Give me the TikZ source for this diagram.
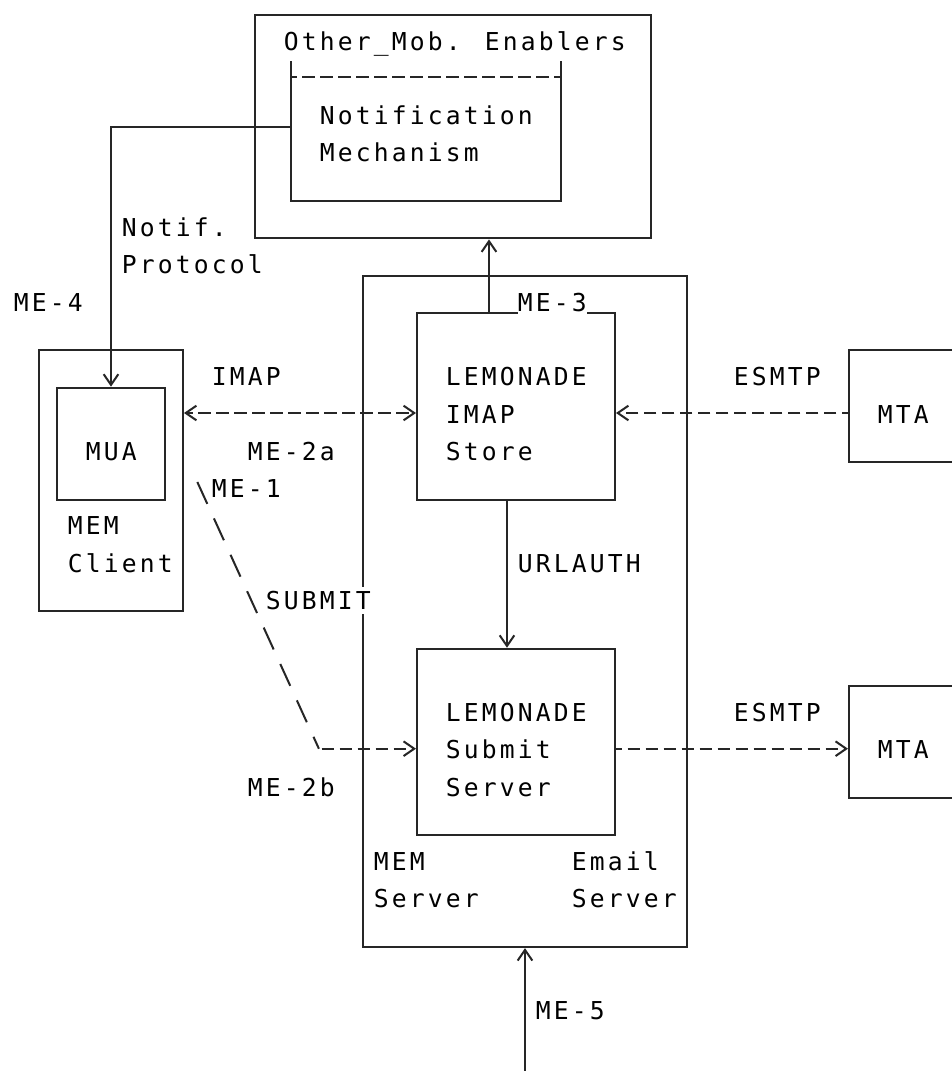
\documentclass[tikz,border=0pt]{standalone}
\usepackage{fontspec}
\usepackage{tikz}
\usetikzlibrary{arrows.meta,fit,calc}
\newfontfamily\asciifont[LetterSpace=12.8]{DejaVu Sans Mono}

\begin{document}
\begin{tikzpicture}[x=13.5pt, y=-27.975pt,
    >={Straight Barb[length=8pt, width=11pt]},
    box/.style={draw=black!85, line width=1.5pt, inner sep=0pt},
    wire/.style={draw=black!85, line width=1.5pt},
    hyph/.style={wire, dash pattern=on 9.5pt off 4pt, dash phase=4.75pt},
    slash/.style={wire, dash pattern=on 18pt off 12pt},
    lbl/.style={anchor=base west, inner sep=0pt, xshift=1.2pt,
                font=\asciifont\fontsize{18.5}{22}\selectfont},
    onwire/.style={lbl, fill=white, inner ysep=3pt}]

    \path[use as bounding box, fill=white] (-0.1667,-0.0724) rectangle (52.722,28.641);
    \clip (-0.1667,-0.0724) rectangle (52.722,28.641);

    %% Other Mob. Enablers
    \node[box, fit={(14,0.32) (36,6.32)}] (enablers) {};
    \node[inner sep=0pt, fit={(16,1.58) (31,5.32)}] (notif) {};
    \draw[wire] (notif.north west) -- (notif.south west) -- (notif.south east) -- (notif.north east);
    \draw[hyph] (notif.west |- 0,2) -- (notif.east |- 0,2);

    %% MEM Client
    \node[box, fit={(2,9.32) (10,16.32)}] (client) {};
    \node[box, fit={(3,10.32) (9,13.32)}] (mua) {};

    %% MEM Server / Email Server
    \node[box, fit={(20,7.32) (38,25.32)}] (server) {};
    \node[box, fit={(23,8.32) (34,13.32)}] (store) {};
    \node[box, fit={(23,17.32) (34,22.32)}] (submit) {};

    %% MTA
    \node[box, fit={(47,9.32) (56,12.32)}] (mtaa) {};
    \node[box, fit={(47,18.32) (56,21.32)}] (mtab) {};

    %% connectors
    \draw[wire, ->] (notif.west |- 0,3.32) -| (mua.north);
    \coordinate (mecol) at (27,0);
    \draw[wire, ->] (store.north -| mecol) -- (enablers.south -| mecol);
    \coordinate (urlcol) at (28,0);
    \draw[wire, ->] (store.south -| urlcol) -- (submit.north -| urlcol);
    \draw[hyph, <->] (client.east |- 0,11) -- (store.west |- 0,11);
    \draw[hyph, ->] (mtaa.west |- 0,11) -- (store.east |- 0,11);
    \draw[hyph, ->] (submit.east |- 0,20) -- (mtab.west |- 0,20);
    \coordinate (bend) at (17.55,20);
    \draw[slash] ($(client.east |- 0,12.85)+(10pt,0)$) -- (bend);
    \draw[hyph, dash phase=11.5pt, ->] (bend) -- (submit.west |- bend);
    \coordinate (me5) at (29,28.7);
    \draw[wire, ->] (me5) -- (server.south -| me5);

    %% texts
    \node[lbl] (tenab) at (15.5,1.27) {Other\_Mob. Enablers};
    \node[lbl] (tnotif) at (17.5,3.27) {Notification};
    \node[lbl] (tmech) at (17.5,4.27) {Mechanism};
    \node[lbl] (tnp) at (6.5,6.27) {Notif.};
    \node[lbl] (tproto) at (6.5,7.27) {Protocol};
    \node[lbl] (tme4) at (0.5,8.27) {ME-4};
    \node[onwire] (tme3) at (28.5,8.27) {ME-3};
    \node[lbl] (timap) at (11.5,10.27) {IMAP};
    \node[lbl] (tlem) at (24.5,10.27) {LEMONADE};
    \node[lbl] (tesa) at (40.5,10.27) {ESMTP};
    \node[lbl] (timaps) at (24.5,11.27) {IMAP};
    \node[lbl] (tmtaa) at (48.5,11.27) {MTA};
    \node[lbl] (tmua) at (4.5,12.27) {MUA};
    \node[lbl] (tme2a) at (13.5,12.27) {ME-2a};
    \node[lbl] (tstore) at (24.5,12.27) {Store};
    \node[lbl] (tme1) at (11.5,13.27) {ME-1};
    \node[lbl] (tmemc) at (3.5,14.27) {MEM};
    \node[lbl] (tclient) at (3.5,15.27) {Client};
    \node[lbl] (turl) at (28.5,15.27) {URLAUTH};
    \node[onwire] (tsub) at (14.5,16.27) {SUBMIT};
    \node[lbl] (tlems) at (24.5,19.27) {LEMONADE};
    \node[lbl] (tesb) at (40.5,19.27) {ESMTP};
    \node[lbl] (tsubm) at (24.5,20.27) {Submit};
    \node[lbl] (tmtab) at (48.5,20.27) {MTA};
    \node[lbl] (tme2b) at (13.5,21.27) {ME-2b};
    \node[lbl] (tserv) at (24.5,21.27) {Server};
    \node[lbl] (tmems) at (20.5,23.27) {MEM};
    \node[lbl] (temail) at (31.5,23.27) {Email};
    \node[lbl] (tmemsv) at (20.5,24.27) {Server};
    \node[lbl] (temsv) at (31.5,24.27) {Server};
    \node[lbl] (tme5) at (29.5,27.27) {ME-5};

\end{tikzpicture}
\end{document}
